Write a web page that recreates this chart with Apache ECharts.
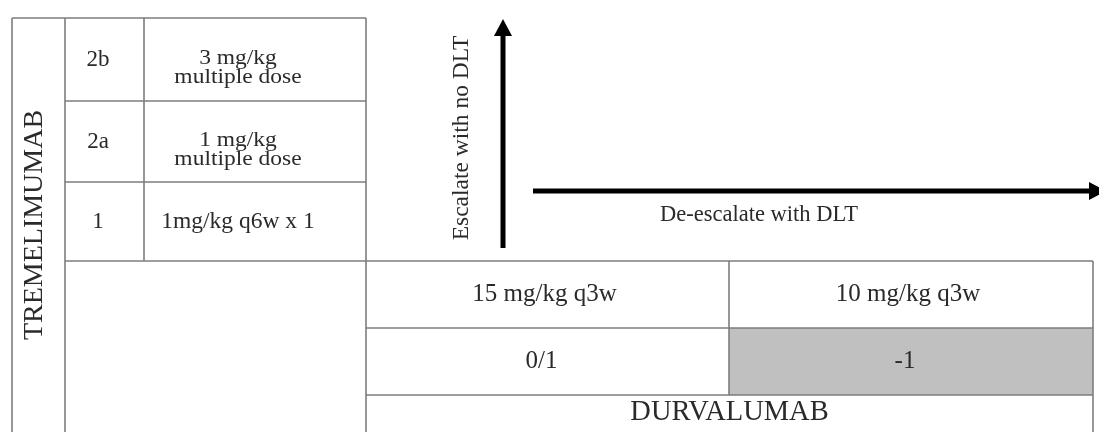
<!DOCTYPE html>
<html><head><meta charset="utf-8">
<script src="https://cdn.jsdelivr.net/npm/echarts@6/dist/echarts.min.js"></script>
<style>html,body{margin:0;padding:0;background:#fff}#c{width:1099px;height:432px}</style>
</head><body><div id="c"></div>
<script>
// ---- content (data) ----
const tremeLevels = ['2b', '2a', '1'];
const tremeDoses = ['3 mg/kg\nmultiple dose', '1 mg/kg\nmultiple dose', '1mg/kg q6w x 1'];
const durvaDoses = ['15 mg/kg q3w', '10 mg/kg q3w'];
const durvaLevels = ['0/1', '-1'];
const durvaShaded = [false, true];
const drugRows = 'TREMELIMUMAB';
const drugCols = 'DURVALUMAB';
const escalateLabel = 'Escalate with no DLT';
const deescalateLabel = 'De-escalate with DLT';

// ---- layout (diagram units on hidden axes) ----
const L = {
  leftCols: [12, 65, 144, 366],
  leftRows: [18, 101, 182, 261],
  botCols: [366, 729, 1093],
  botRows: [261, 328, 395, 440],
  levelX: 98, doseX: 238, doseLineGap: 19,
  vArrow: { x: 503, y0: 248, y1: 19 },
  hArrow: { y: 191, x0: 533, x1: 1106 }
};
const LINE = '#7d7d7d', TXT = '#2a2a2a', SERIF = 'Liberation Serif';

function renderItem(params, api) {
  const c = (x, y) => api.coord([x, y]);
  const ch = [];
  const line = (x1, y1, x2, y2) => {
    const a = c(x1, y1), b = c(x2, y2);
    ch.push({ type: 'line', shape: { x1: a[0], y1: a[1], x2: b[0], y2: b[1] }, style: { stroke: LINE, lineWidth: 1.6 } });
  };
  const text = (t, x, y, size, el) => {
    const p = c(x, y);
    ch.push(Object.assign({ type: 'text', x: p[0], y: p[1], style: { text: t, align: 'center', verticalAlign: 'middle', fontSize: size, fontFamily: SERIF, fill: TXT } }, el));
  };
  // shaded cells
  durvaShaded.forEach((s, i) => {
    if (!s) return;
    const a = c(L.botCols[i], L.botRows[1]), b = c(L.botCols[i + 1], L.botRows[2]);
    ch.push({ type: 'rect', shape: { x: a[0], y: a[1], width: b[0] - a[0], height: b[1] - a[1] }, style: { fill: '#c0c0c0' } });
  });
  const lc = L.leftCols, lr = L.leftRows, bc = L.botCols, br = L.botRows;
  // left block
  line(lc[0], lr[0], lc[3], lr[0]);
  line(lc[0], lr[0], lc[0], 440);
  line(lc[1], lr[0], lc[1], 440);
  line(lc[2], lr[0], lc[2], lr[3]);
  line(lc[3], lr[0], lc[3], 440);
  line(lc[1], lr[1], lc[3], lr[1]);
  line(lc[1], lr[2], lc[3], lr[2]);
  line(lc[1], lr[3], bc[2], lr[3]);
  // bottom block
  line(bc[1], br[0], bc[1], br[2]);
  line(bc[2], br[0], bc[2], 440);
  line(bc[0], br[1], bc[2], br[1]);
  line(bc[0], br[2], bc[2], br[2]);
  // left texts
  tremeLevels.forEach((t, i) => {
    const yc = (lr[i] + lr[i + 1]) / 2;
    text(t, L.levelX, yc, 23);
    const parts = tremeDoses[i].split('\n');
    if (parts.length === 1) {
      text(parts[0], L.doseX, yc, 23.5);
    } else {
      parts.forEach((p, k) => text(p, L.doseX, yc - 1 + k * L.doseLineGap, 23.5, { scaleY: 0.86 }));
    }
  });
  text(drugRows, 35, 225, 28, { rotation: Math.PI / 2 });
  // bottom texts
  durvaDoses.forEach((t, i) => {
    const xc = (bc[i] + bc[i + 1]) / 2;
    text(t, xc - 3, (br[0] + br[1]) / 2, 25);
    text(durvaLevels[i], xc - 6, (br[1] + br[2]) / 2, 25);
  });
  text(drugCols, (bc[0] + bc[2]) / 2, 413, 28.5);
  // arrows
  const va = L.vArrow, ha = L.hArrow;
  let a = c(va.x, va.y0), b = c(va.x, va.y1 + 16);
  ch.push({ type: 'line', shape: { x1: a[0], y1: a[1], x2: b[0], y2: b[1] }, style: { stroke: '#000', lineWidth: 5 } });
  let t = c(va.x, va.y1);
  ch.push({ type: 'polygon', shape: { points: [[t[0], t[1]], [t[0] - 9, t[1] + 17], [t[0] + 9, t[1] + 17]] }, style: { fill: '#000' } });
  a = c(ha.x0, ha.y); b = c(ha.x1 - 16, ha.y);
  ch.push({ type: 'line', shape: { x1: a[0], y1: a[1], x2: b[0], y2: b[1] }, style: { stroke: '#000', lineWidth: 5 } });
  t = c(ha.x1, ha.y);
  ch.push({ type: 'polygon', shape: { points: [[t[0], t[1]], [t[0] - 17, t[1] - 9], [t[0] - 17, t[1] + 9]] }, style: { fill: '#000' } });
  text(escalateLabel, 462, 138, 23.5, { rotation: Math.PI / 2 });
  text(deescalateLabel, 759, 215, 22.5);
  return { type: 'group', children: ch };
}

const chart = echarts.init(document.getElementById('c'), null, { renderer: 'canvas' });
chart.setOption({
  backgroundColor: '#fff',
  animation: false,
  grid: { left: 0, right: 0, top: 0, bottom: 0 },
  xAxis: { type: 'value', min: 0, max: 1099, show: false },
  yAxis: { type: 'value', min: 0, max: 432, inverse: true, show: false },
  series: [{ type: 'custom', clip: false, data: [[0, 0]], renderItem: renderItem, silent: true }]
});
</script>
</body></html>
